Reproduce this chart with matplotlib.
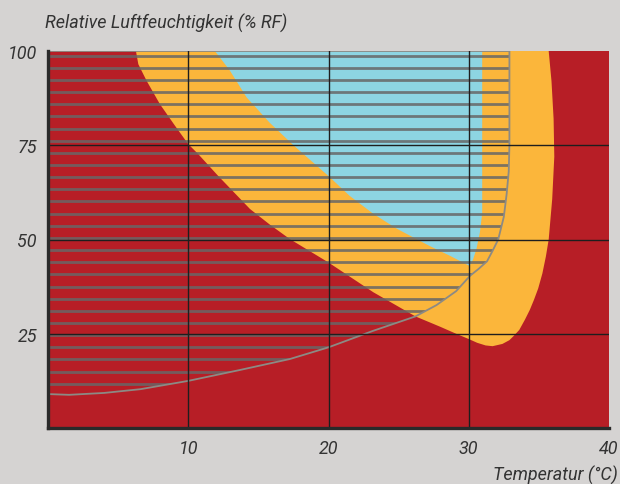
import numpy as np
import matplotlib
matplotlib.use("Agg")
import matplotlib.pyplot as plt
from matplotlib.patches import Polygon

# boundary of the yellow zone (temperature, rel. humidity)
yellow_t = [6.27, 6.44, 7.03, 7.98, 9.05, 10.0, 10.7, 12.1, 14.4, 15.8, 17.25, 20.0, 23.2, 26.2,
            28.0, 29.1, 30.0, 30.6, 31.2, 31.7, 32.4, 32.9, 33.2, 33.6, 34.0, 34.35, 34.65,
            34.95, 35.25, 35.5, 35.7, 35.95, 36.1, 36.05, 35.9, 35.7]
yellow_rh = [100, 96.5, 92.1, 85.9, 80.2, 75.3, 72.7, 67.0, 58.1, 54.0, 50.1, 43.9, 36.0, 29.6,
             26.8, 25.0, 23.6, 22.6, 21.9, 21.7, 22.3, 23.3, 24.4, 26.0, 28.7, 31.3, 34.0,
             37.0, 41.0, 45.5, 50.0, 60.7, 72.0, 82.0, 92.0, 100]

# boundary of the blue zone
blue_t = [11.9, 12.97, 14.16, 15.8, 17.5, 20.1, 21.5, 23.2, 24.9, 27.2, 28.7, 30.05,
          30.3, 30.55, 30.8, 30.96, 30.96]
blue_rh = [100, 94.8, 87.7, 81.0, 75.0, 66.5, 61.6, 56.8, 52.8, 48.3, 45.6, 43.0,
           44.6, 47.5, 52.0, 57.0, 100]

# hatched zone outline
hatch_t = [0, 32.9, 32.9, 32.85, 32.7, 32.5, 32.1, 31.7, 31.3, 30.7, 30.1, 29.1, 27.7,
           26.2, 23.2, 20.0, 17.25, 13.7, 10.0, 6.6, 4.0, 1.5, 0]
hatch_rh = [100, 100, 75.0, 68.0, 62.0, 56.0, 50.0, 47.0, 44.2, 42.2, 40.4, 36.3, 32.6,
            29.6, 25.8, 21.4, 18.3, 15.4, 12.5, 10.3, 9.3, 8.8, 9.0]

x_ticks = [10, 20, 30, 40]
y_ticks = [25, 50, 75, 100]

RED = '#b71e26'
YELLOW = '#fbb63b'
BLUE = '#8dd5e2'
BG = '#d5d3d2'
TXT = '#333333'

plt.rcParams['font.family'] = ['Roboto', 'DejaVu Sans']

fig = plt.figure(figsize=(6.2, 4.85), dpi=100, facecolor=BG)
ax = fig.add_axes([48/620, 1-429/485, (609-48)/620, (429-52)/485])
ax.set_facecolor(RED)
ax.set_xlim(0, 40)
ax.set_ylim(0, 100)

ax.fill(yellow_t, yellow_rh, color=YELLOW, lw=0, zorder=1)
ax.fill(blue_t, blue_rh, color=BLUE, lw=0, zorder=2)

hatch_poly = Polygon(np.column_stack([hatch_t, hatch_rh]), closed=True,
                     facecolor='none', edgecolor='#8c8a84', lw=1.3, zorder=4)
ax.add_patch(hatch_poly)
levels = np.linspace(11.75, 98.75, 28)
hl = ax.hlines(levels, 0, 40, colors='#676767', alpha=0.85, lw=2.0, zorder=3)
hl.set_clip_path(hatch_poly)

for t in x_ticks[:-1]:
    ax.axvline(t, color='#1e1e1e', lw=1.0, zorder=5)
for r in y_ticks[:-1]:
    ax.axhline(r, color='#1e1e1e', lw=1.0, zorder=5)

for s in ['top', 'right']:
    ax.spines[s].set_visible(False)
for s in ['left', 'bottom']:
    ax.spines[s].set_color('#2a2a2a')
    ax.spines[s].set_linewidth(2.4)
    ax.spines[s].set_zorder(6)

ax.set_xticks(x_ticks)
ax.set_yticks(y_ticks)
ax.tick_params(length=0, labelsize=13, labelcolor=TXT, pad=8)
for lab in ax.get_xticklabels() + ax.get_yticklabels():
    lab.set_fontstyle('italic')

fig.text(45/620, 1-23/485, 'Relative Luftfeuchtigkeit (% RF)', fontsize=13,
         style='italic', color=TXT, ha='left', va='center')
fig.text(618/620, 1-475/485, 'Temperatur (°C)', fontsize=13,
         style='italic', color=TXT, ha='right', va='center')

fig.savefig('out.png', dpi=100, facecolor=BG)
